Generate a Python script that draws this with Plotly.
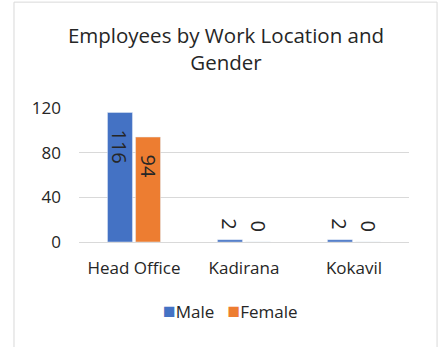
import plotly.graph_objects as go

locations = ["Head Office", "Kadirana", "Kokavil"]
male = [116, 2, 2]
female = [94, 0, 0]
y_ticks = [0, 40, 80, 120]

FONT = "Open Sans"
TEXT = "#262626"
BLUE = "#4472C4"
ORANGE = "#ED7D31"
Y_MAX = 120
PLOT_H = 134  # px height of the plotting area

fig = go.Figure()
fig.add_trace(go.Bar(name="Male", x=locations, y=male, marker_color=BLUE,
                     showlegend=False))
fig.add_trace(go.Bar(name="Female", x=locations, y=female, marker_color=ORANGE,
                     showlegend=False))

# rotated value labels: inside the bar top for tall bars, above it otherwise
annotations = []
for values, shift in ((male, -14), (female, 14)):
    for loc, v in zip(locations, values):
        inside = v / Y_MAX * PLOT_H > 45
        annotations.append(dict(
            x=loc, y=v, xref="x", yref="y", text=str(v), showarrow=False,
            textangle=90, xshift=shift,
            yanchor="top" if inside else "bottom",
            yshift=-15 if inside else 9,
            font=dict(size=20, family=FONT, color=TEXT),
        ))

# legend drawn as a single text line with coloured square markers
sq = "<span style='color:{};font-size:21px'>■</span>"
annotations.append(dict(
    x=0.458, y=-0.505, xref="paper", yref="paper", showarrow=False,
    xanchor="center", yanchor="middle",
    text=sq.format(BLUE) + "Male   " + sq.format(ORANGE) + "Female",
    font=dict(size=17, family=FONT, color=TEXT),
))

# chart frame
fig.add_shape(type="rect", xref="paper", yref="paper",
              x0=-0.197, x1=1.085, y0=-0.81, y1=1.79,
              line=dict(color="#d9d9d9", width=1), layer="below")

fig.update_layout(
    width=440, height=347,
    margin=dict(l=79, r=31, t=108, b=105),
    paper_bgcolor="white", plot_bgcolor="white",
    font=dict(family=FONT, color=TEXT, size=17),
    title=dict(text="Employees by Work Location and<br>Gender",
               x=226 / 440, xref="container", xanchor="center",
               y=1 - 43 / 347, yref="container", yanchor="middle",
               font=dict(size=20.5, family=FONT, color=TEXT)),
    barmode="group", bargap=0.49, bargroupgap=0.11,
    annotations=annotations,
    xaxis=dict(showgrid=False, showline=True, linecolor="#d9d9d9",
               ticks="", ticklabelstandoff=11, tickfont=dict(size=17)),
    yaxis=dict(range=[0, Y_MAX], tickvals=y_ticks, showgrid=True,
               gridcolor="#d9d9d9", zeroline=False, showline=False,
               ticks="", ticklabelstandoff=17, tickfont=dict(size=17)),
)

fig.write_html("out.html")
